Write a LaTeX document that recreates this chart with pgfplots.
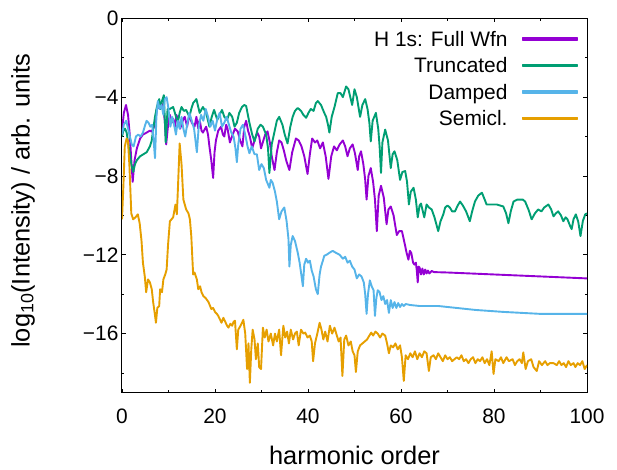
\documentclass[border=0pt]{standalone}
\usepackage{pgfplots}
\pgfplotsset{compat=1.18}
\usepackage{fontspec}
\setmainfont{Liberation Sans}
\definecolor{cpurple}{HTML}{9400D3}
\definecolor{cgreen}{HTML}{009E73}
\definecolor{cblue}{HTML}{56B4E9}
\definecolor{corange}{HTML}{E69F00}
\tikzset{ser/.style={line width=1.9bp, line join=round}}
\begin{document}
\begin{tikzpicture}
\useasboundingbox (-122bp,-77.3bp) rectangle (495bp,392.7bp);
\begin{axis}[
  scale only axis, width=465bp, height=374.4bp,
  xmin=0, xmax=100, ymin=-19, ymax=0,
  xtick={0,20,40,60,80,100},
  minor xtick={10,30,50,70,90},
  ytick={-16,-12,-8,-4,0},
  yticklabels={−16,−12,−8,−4,0},
  minor ytick={-18,-14,-10,-6,-2},
  /pgf/number format/assume math mode=true,
  tick align=inside,
  major tick length=4bp, minor tick length=2.5bp,
  every tick/.style={black, line width=0.8bp},
  axis line style={black, line width=1bp},
  tick label style={font=\fontsize{21}{21}\selectfont},
  xticklabel style={yshift=-13bp},
  xlabel={harmonic order},
  ylabel={log\textsubscript{10}(Intensity) / arb. units},
  label style={font=\fontsize{25.5}{25.5}\selectfont},
  xlabel style={at={(axis description cs:0.5,-0.1925)}, anchor=base},
  ylabel style={at={(axis description cs:-0.1987,0.5126)}, anchor=base, rotate=0},
  legend cell align=right,
  legend plot pos=right,
  legend image code/.code={\fill[#1] (0bp,1.2bp) rectangle (55bp,2.8bp);},
  legend style={draw=none, fill=none, at={(axis description cs:1,1)}, anchor=north east,
    xshift=-8.4bp, yshift=-11bp, inner sep=0pt, row sep=3.1bp,
    nodes={inner sep=2bp, text height=15bp, text depth=4.3bp},
    font=\fontsize{21}{21}\selectfont,
    /tikz/every odd column/.append style={column sep=12bp}},
]
\addplot[cpurple, ser] coordinates {
(0,-5.7)(0.4,-4.8)(0.86,-4.4)(1.3,-4.9)(1.7,-6.0)(2.0,-7.2)(2.3,-8.3)(2.7,-7.2)(3.2,-6.6)(3.9,-6.1)
(4.5,-5.9)(5.3,-5.8)(6.0,-5.7)(6.4,-5.75)(7.1,-5.4)(7.5,-4.6)(7.8,-4.5)(8.2,-4.6)(8.5,-4.3)(8.9,-4.6)
(9.2,-5.2)(9.5,-6.4)(10.0,-5.2)(10.3,-4.9)(10.7,-5.3)(11.0,-5.1)(11.4,-5.5)(11.7,-4.9)(12.1,-5.2)(12.5,-5.6)
(12.8,-5.4)(13.2,-5.1)(13.5,-5.0)(14.0,-5.5)(14.5,-4.9)(15.0,-5.3)(15.6,-5.5)(16.0,-5.0)(16.4,-5.6)(16.7,-5.15)
(17.1,-5.7)(17.4,-5.8)(18.1,-5.5)(18.5,-5.9)(18.8,-6.5)(19.2,-7.2)(19.6,-8.1)(19.9,-6.8)(20.2,-6.2)(20.7,-5.7)
(21.3,-5.5)(21.7,-5.9)(22.0,-6.0)(22.4,-5.4)(22.7,-5.6)(23.2,-6.3)(23.8,-5.9)(24.3,-5.6)(24.9,-5.75)(25.4,-6.2)
(25.9,-6.5)(26.3,-5.5)(26.7,-5.2)(27.1,-5.7)(27.5,-6.0)(28.0,-6.6)(28.5,-6.2)(29.1,-5.8)(29.5,-6.0)(29.9,-6.6)
(30.4,-6.2)(30.8,-5.9)(31.3,-5.74)(31.8,-6.3)(32.2,-7.0)(32.8,-7.7)(33.3,-6.8)(33.8,-6.2)(34.3,-6.3)(34.8,-6.7)
(35.3,-7.2)(36.0,-7.7)(36.6,-6.8)(37.4,-6.1)(38.0,-6.2)(38.6,-6.5)(39.2,-7.0)(39.9,-7.9)(40.4,-6.9)(40.9,-6.1)
(41.5,-6.3)(42.0,-6.2)(42.6,-6.6)(43.2,-6.3)(43.8,-7.0)(44.4,-8.15)(45.0,-7.0)(45.6,-6.5)(46.2,-6.7)(46.8,-6.4)
(47.5,-6.2)(48.0,-6.5)(48.5,-7.0)(49.0,-6.6)(49.6,-6.4)(50.1,-6.85)(50.7,-7.7)(51.0,-7.0)(51.4,-6.75)(51.9,-7.4)
(52.3,-8.2)(52.6,-9.2)(53.0,-8.0)(53.5,-7.6)(54.0,-8.3)(54.4,-9.2)(54.8,-10.8)(55.2,-9.0)(55.7,-8.5)(56.3,-9.1)
(56.9,-10.45)(57.3,-9.7)(57.8,-9.55)(58.4,-10.0)(59.1,-11.0)(59.6,-10.8)(60.2,-10.8)(60.9,-11.55)(61.2,-11.9)(61.6,-12.25)
(61.9,-11.8)(62.2,-11.9)(62.6,-12.4)(62.9,-12.5)(63.2,-12.4)(63.4,-12.8)(63.6,-13.4)(63.8,-12.6)(64.0,-12.65)(64.3,-13.0)
(64.6,-12.7)(64.9,-13.0)(65.2,-12.75)(65.5,-12.95)(65.8,-12.8)(66.1,-12.95)(66.6,-12.82)(67.1,-12.88)(70,-12.9)(75,-12.95)
(80,-13.0)(85,-13.05)(90,-13.1)(95,-13.15)(100,-13.2)
};
\addlegendentry{H 1s: Full Wfn}
\addplot[cgreen, ser] coordinates {
(0,-6.0)(0.3,-5.7)(0.65,-5.6)(1.0,-5.8)(1.5,-6.6)(2.0,-7.4)(2.4,-7.8)(2.8,-7.4)(3.2,-7.2)(3.9,-7.0)
(4.6,-6.9)(5.3,-6.8)(6.0,-6.5)(6.4,-6.2)(6.7,-5.65)(7.1,-5.0)(7.5,-4.5)(8.0,-4.1)(8.3,-4.6)(8.6,-4.2)
(9.0,-3.9)(9.4,-6.3)(9.8,-4.6)(10.3,-4.6)(11.0,-4.5)(11.5,-4.9)(12.0,-5.3)(12.4,-4.8)(12.8,-4.5)(13.3,-4.7)
(13.8,-4.65)(14.5,-5.0)(14.9,-4.6)(15.3,-4.3)(16.0,-4.1)(16.7,-4.8)(17.4,-4.5)(18.1,-4.8)(18.8,-5.5)(19.3,-5.0)
(19.8,-4.65)(20.5,-5.15)(21.0,-4.9)(21.5,-4.65)(22.0,-5.0)(22.6,-5.15)(23.1,-4.8)(23.7,-5.0)(24.2,-5.5)(24.7,-5.3)
(25.2,-4.8)(25.8,-4.5)(26.3,-4.4)(26.7,-4.45)(27.4,-5.3)(28.0,-5.9)(28.5,-6.25)(29.2,-5.6)(29.8,-5.4)(30.3,-5.5)
(31.0,-5.9)(31.4,-6.6)(31.7,-7.85)(32.2,-6.4)(32.8,-5.75)(33.3,-5.2)(33.8,-5.0)(34.5,-5.4)(35.0,-5.9)(35.6,-6.35)
(36.2,-5.5)(36.7,-5.0)(37.2,-4.7)(37.8,-4.55)(38.5,-4.7)(39.0,-4.9)(39.6,-5.05)(40.1,-4.8)(40.6,-4.6)(41.2,-4.7)
(41.7,-4.3)(42.1,-4.2)(42.8,-4.4)(43.5,-4.8)(43.9,-5.0)(44.3,-5.4)(44.6,-5.8)(45.1,-5.0)(45.7,-4.5)(46.4,-3.8)
(47.0,-3.8)(47.5,-4.0)(48.2,-3.46)(48.7,-3.6)(49.1,-4.0)(49.5,-4.4)(50.0,-3.6)(50.5,-4.0)(51.2,-5.0)(51.7,-4.4)
(52.3,-4.1)(52.8,-4.6)(53.2,-5.3)(53.5,-6.25)(53.9,-5.2)(54.6,-4.8)(55.1,-5.6)(55.4,-6.5)(55.7,-7.85)(56.0,-6.3)
(56.6,-5.65)(57.2,-6.2)(57.8,-7.6)(58.2,-6.9)(58.6,-6.75)(59.2,-7.2)(59.8,-8.2)(60.3,-7.8)(60.9,-7.75)(61.3,-8.3)
(61.7,-9.45)(62.1,-8.8)(62.7,-8.6)(63.2,-9.2)(63.6,-10.1)(64.0,-9.5)(64.3,-9.4)(65.0,-10.1)(65.5,-9.45)(66.0,-9.6)
(66.6,-9.7)(67.2,-10.1)(68.0,-10.8)(68.5,-10.3)(69.1,-9.95)(69.5,-9.6)(70.0,-9.5)(70.5,-9.6)(71.0,-9.8)(71.6,-9.8)
(72.2,-9.5)(72.7,-9.3)(73.3,-9.5)(74.0,-9.8)(74.8,-10.3)(75.3,-9.8)(75.9,-9.3)(76.6,-9.0)(77.4,-8.85)(78.0,-9.2)
(78.4,-9.45)(79.2,-9.45)(80.0,-9.45)(80.6,-9.45)(81.3,-9.5)(82.0,-9.55)(82.6,-9.9)(83.1,-10.4)(83.6,-9.8)(84.2,-9.3)
(85.0,-9.2)(85.6,-9.2)(86.2,-9.2)(86.7,-9.3)(87.4,-9.7)(88.1,-10.2)(88.8,-9.9)(89.5,-9.7)(90.2,-9.8)(90.8,-9.6)
(91.7,-9.45)(92.3,-9.7)(92.8,-10.05)(93.3,-9.9)(93.8,-9.8)(94.4,-10.0)(94.9,-10.3)(95.4,-10.1)(95.8,-10.2)(96.3,-10.5)
(96.7,-10.7)(97.1,-10.2)(97.6,-9.95)(98.1,-10.3)(98.6,-11.05)(99.1,-10.3)(99.6,-9.95)(100,-9.9)
};
\addlegendentry{Truncated}
\addplot[cblue, ser] coordinates {
(0,-5.9)(0.4,-5.4)(0.9,-5.2)(1.3,-5.6)(1.7,-6.0)(2.1,-6.4)(2.5,-6.5)(3.0,-6.0)(3.5,-5.9)(4.0,-6.0)
(4.5,-5.8)(5.0,-5.4)(5.3,-5.2)(5.7,-5.3)(6.1,-5.5)(6.5,-5.4)(6.8,-6.2)(7.1,-7.1)(7.4,-5.0)(7.7,-4.2)
(8.1,-4.6)(8.5,-4.4)(8.9,-4.9)(9.2,-4.1)(9.6,-4.0)(10.0,-4.6)(10.4,-5.5)(10.8,-5.0)(11.2,-5.4)(11.6,-5.9)
(12.0,-5.2)(12.4,-5.6)(12.8,-5.0)(13.2,-5.6)(13.6,-6.0)(14.0,-5.4)(14.5,-4.8)(15.0,-5.2)(15.5,-5.6)(16.1,-6.8)
(16.5,-5.5)(17.0,-4.9)(17.5,-5.2)(18.0,-4.6)(18.5,-5.0)(19.0,-5.5)(19.5,-5.2)(20.0,-5.7)(20.5,-5.1)(21.0,-4.8)
(21.5,-5.5)(22.0,-5.3)(22.5,-5.0)(23.0,-5.4)(23.5,-5.8)(24.0,-6.0)(24.4,-6.6)(24.7,-7.3)(25.0,-6.4)(25.5,-5.6)
(26.0,-5.4)(26.5,-5.9)(27.0,-6.5)(27.4,-6.85)(27.9,-6.5)(28.5,-6.9)(29.0,-6.9)(29.5,-7.7)(30.0,-7.4)(30.5,-7.6)
(31.0,-8.2)(31.7,-8.6)(32.0,-8.2)(32.4,-8.35)(32.9,-8.8)(33.3,-9.3)(33.8,-10.2)(34.3,-9.8)(34.9,-9.6)(35.4,-10.3)
(35.8,-11.2)(36.0,-12.6)(36.3,-11.5)(36.7,-11.05)(37.2,-11.3)(37.8,-11.9)(38.2,-12.4)(38.5,-12.9)(38.9,-13.6)(39.2,-12.5)
(39.6,-12.2)(40.0,-12.4)(40.4,-12.3)(40.8,-12.8)(41.2,-13.1)(41.7,-13.75)(42.1,-14.0)(42.5,-13.0)(42.8,-12.6)(43.2,-12.3)
(43.5,-12.05)(44.0,-12.0)(44.6,-11.9)(45.3,-11.8)(46.0,-11.9)(46.8,-12.0)(47.5,-12.2)(48.0,-12.1)(48.5,-12.4)(49.0,-12.3)
(49.5,-12.6)(50.0,-12.75)(50.5,-13.2)(51.0,-13.0)(51.5,-13.1)(52.0,-13.4)(52.3,-14.0)(52.6,-15.0)(52.9,-14.0)(53.3,-13.3)
(53.7,-13.6)(54.1,-13.8)(54.4,-15.1)(54.7,-14.2)(55.0,-13.8)(55.4,-13.9)(55.8,-14.3)(56.2,-14.1)(56.6,-14.5)(57.0,-14.3)
(57.4,-14.95)(57.8,-14.3)(58.2,-14.7)(58.6,-14.4)(59.0,-14.7)(59.4,-14.45)(59.8,-14.65)(60.2,-14.5)(60.6,-14.6)(61.0,-14.5)
(62,-14.55)(64,-14.6)(68,-14.6)(72,-14.7)(76,-14.8)(82,-14.9)(90,-15.0)(100,-15.0)
};
\addlegendentry{Damped}
\addplot[corange, ser] coordinates {
(0,-10.2)(0.3,-8.5)(0.6,-6.5)(1.0,-6.1)(1.3,-6.25)(1.6,-7.5)(2.0,-9.9)(2.4,-10.2)(2.9,-10.1)(3.4,-9.95)
(3.8,-10.4)(4.2,-11.3)(4.5,-12.4)(4.9,-13.1)(5.2,-13.9)(5.6,-13.25)(6.0,-13.4)(6.4,-13.75)(6.7,-14.4)(7.0,-14.9)
(7.3,-15.45)(7.6,-14.7)(8.0,-14.6)(8.2,-13.75)(8.6,-13.9)(8.9,-13.25)(9.3,-13.0)(9.6,-12.75)(9.9,-11.5)(10.3,-10.3)
(11.0,-10.1)(11.5,-9.45)(11.8,-9.95)(12.1,-8.2)(12.4,-6.35)(12.8,-7.4)(13.2,-9.2)(13.8,-9.7)(14.3,-9.9)(14.6,-10.2)
(14.9,-11.05)(15.3,-13.0)(15.6,-12.9)(16.1,-13.25)(16.4,-13.75)(16.8,-13.6)(17.1,-13.9)(17.5,-14.1)(18.0,-14.2)(18.6,-14.4)
(19.2,-14.75)(19.6,-14.7)(20.0,-14.9)(20.4,-15.0)(20.7,-15.1)(21.1,-15.3)(21.4,-15.45)(21.8,-15.2)(22.2,-15.4)(22.6,-15.6)
(22.9,-15.7)(23.3,-15.5)(23.7,-15.6)(24.0,-15.4)(24.3,-15.35)(24.7,-16.8)(25.0,-15.8)(25.5,-15.6)(26.1,-15.3)(26.5,-16.0)
(26.9,-17.8)(27.2,-16.5)(27.5,-18.5)(27.8,-16.8)(28.1,-15.8)(28.5,-16.3)(28.8,-17.3)(29.2,-16.5)(29.5,-17.7)(29.9,-17.8)
(30.3,-15.7)(30.7,-16.2)(31.1,-15.8)(31.5,-16.4)(32.0,-16.0)(32.5,-16.6)(32.9,-16.0)(33.3,-16.4)(33.8,-15.8)(34.2,-17.1)
(34.7,-15.6)(35.1,-16.2)(35.5,-15.9)(35.9,-16.5)(36.3,-15.8)(36.8,-16.3)(37.2,-16.0)(37.6,-15.9)(38.0,-16.6)(38.5,-15.8)
(39.0,-16.0)(39.4,-15.95)(39.9,-16.2)(40.4,-16.1)(40.8,-16.4)(41.1,-17.4)(41.5,-16.5)(42.0,-16.0)(42.5,-15.45)(42.9,-15.8)
(43.3,-16.3)(43.7,-15.9)(44.2,-16.4)(44.7,-15.6)(45.2,-16.0)(45.7,-15.7)(46.2,-16.1)(46.6,-16.4)(47.0,-16.2)(47.4,-18.15)
(47.8,-16.3)(48.2,-16.1)(48.7,-16.6)(49.2,-16.4)(49.6,-16.9)(50.0,-17.1)(50.3,-17.95)(50.7,-16.9)(51.2,-16.6)(51.7,-16.5)
(52.2,-16.4)(52.7,-16.3)(53.2,-16.1)(53.6,-15.95)(54.0,-16.1)(54.5,-15.9)(55.0,-16.0)(55.5,-16.2)(56.0,-16.0)(56.6,-16.1)
(57.0,-16.5)(57.4,-17.0)(57.8,-16.6)(58.3,-16.7)(58.8,-16.5)(59.3,-16.8)(59.8,-16.6)(60.2,-17.2)(60.6,-18.4)(61.0,-17.1)
(61.5,-17.3)(62.0,-17.0)(62.5,-17.2)(63.0,-16.9)(63.5,-17.3)(64.0,-17.0)(64.5,-17.2)(65.0,-16.9)(65.5,-17.0)(66.0,-17.9)
(66.4,-17.2)(67.0,-17.1)(67.5,-17.3)(68.0,-17.0)(68.5,-17.2)(69.0,-17.4)(69.5,-17.1)(70.0,-17.3)(70.5,-17.2)(71.0,-17.4)
(72.0,-17.2)(72.5,-17.3)(73.0,-17.1)(73.5,-17.4)(74.0,-17.3)(74.5,-17.5)(75.0,-17.3)(75.5,-17.2)(76.0,-17.5)(76.5,-17.3)
(77.0,-17.4)(77.5,-17.2)(78.0,-17.5)(78.5,-17.3)(79.0,-17.6)(79.5,-16.9)(79.9,-18.05)(80.3,-17.3)(81.0,-17.4)(81.5,-17.2)
(82.0,-17.5)(82.7,-17.2)(83.2,-17.4)(84.0,-17.3)(84.5,-17.6)(85.0,-17.4)(85.5,-17.3)(86.0,-17.5)(86.3,-16.95)(86.8,-17.8)
(87.3,-17.4)(88.0,-17.3)(88.5,-17.7)(89.2,-17.9)(89.7,-17.4)(90.3,-17.6)(91.0,-17.4)(91.5,-17.6)(92.0,-17.5)(92.8,-17.5)
(93.5,-17.6)(94.0,-17.4)(94.5,-17.6)(95.0,-17.5)(95.5,-17.7)(96.0,-17.4)(96.5,-17.6)(97.1,-17.5)(97.5,-17.7)(98.0,-17.5)
(98.5,-17.6)(99.0,-17.4)(99.5,-17.8)(100,-17.6)
};
\addlegendentry{Semicl.}
\end{axis}
\end{tikzpicture}
\end{document}
